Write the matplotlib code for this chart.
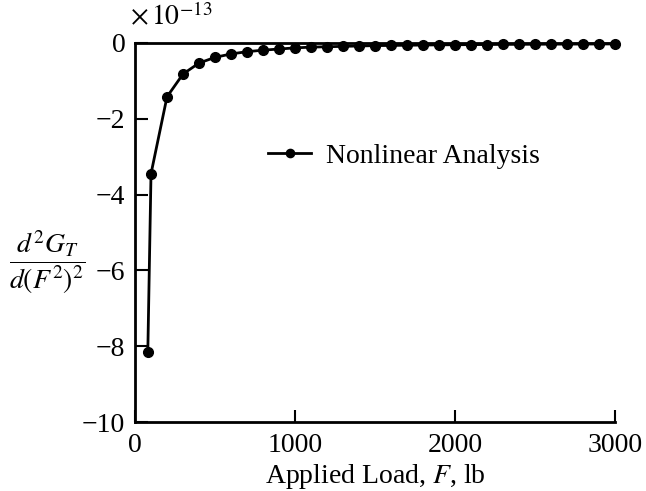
import numpy as np
import matplotlib
matplotlib.use("Agg")
import matplotlib.pyplot as plt

plt.rcParams['font.family'] = ['Liberation Serif', 'DejaVu Serif']
plt.rcParams['mathtext.fontset'] = 'stix'

# applied load F (lb) and d2G/d(F^2)^2 in units of 1e-13
load = [80, 100, 200, 300, 400, 500, 600, 700, 800, 900, 1000,
        1100, 1200, 1300, 1400, 1500, 1600, 1700, 1800, 1900, 2000,
        2100, 2200, 2300, 2400, 2500, 2600, 2700, 2800, 2900, 3000]
d2g = [-8.15, -3.45, -1.42, -0.82, -0.53, -0.38, -0.29, -0.23, -0.19, -0.16, -0.13,
       -0.11, -0.10, -0.09, -0.08, -0.07, -0.065, -0.06, -0.055, -0.05, -0.047,
       -0.044, -0.041, -0.038, -0.036, -0.034, -0.032, -0.030, -0.029, -0.027, -0.026]

fig = plt.figure(figsize=(6.46, 4.91), dpi=100)
ax = fig.add_axes([0.209, 0.1405, 0.743, 0.772])

ax.plot(load, d2g, '-o', color='black', lw=2, ms=7, label='Nonlinear Analysis',
        clip_on=False, zorder=3)

ax.set_xlim(0, 3000)
ax.set_ylim(-10, 0)
ax.set_xticks([0, 1000, 2000, 3000])
ax.set_yticks([0, -2, -4, -6, -8, -10])
ax.set_yticklabels(['0', '\u22122', '\u22124', '\u22126', '\u22128', '\u221210'])
ax.tick_params(direction='in', length=9, width=1.5, labelsize=20)
ax.tick_params(axis='x', pad=8)
ax.tick_params(axis='y', pad=7)
ax.spines['right'].set_visible(False)
for s in ['left', 'bottom', 'top']:
    ax.spines[s].set_linewidth(2)

ax.text(-0.01, 1.03, r'$\times\,10^{-13}$', transform=ax.transAxes, fontsize=20,
        ha='left', va='bottom')

ax.set_xlabel(r'Applied Load, $F$, lb', fontsize=20, labelpad=3)
ax.set_ylabel(r'$\dfrac{d^2G_T}{d(F^2)^2}$', fontsize=20, rotation=0,
              ha='center', va='center', labelpad=0)
ax.yaxis.set_label_coords(-0.183, 0.42)

ax.legend(loc='upper left', bbox_to_anchor=(0.225, 0.80), frameon=False,
          fontsize=20, handlelength=1.55, handletextpad=0.55, markerscale=0.85)

fig.savefig('out.png', dpi=100)
